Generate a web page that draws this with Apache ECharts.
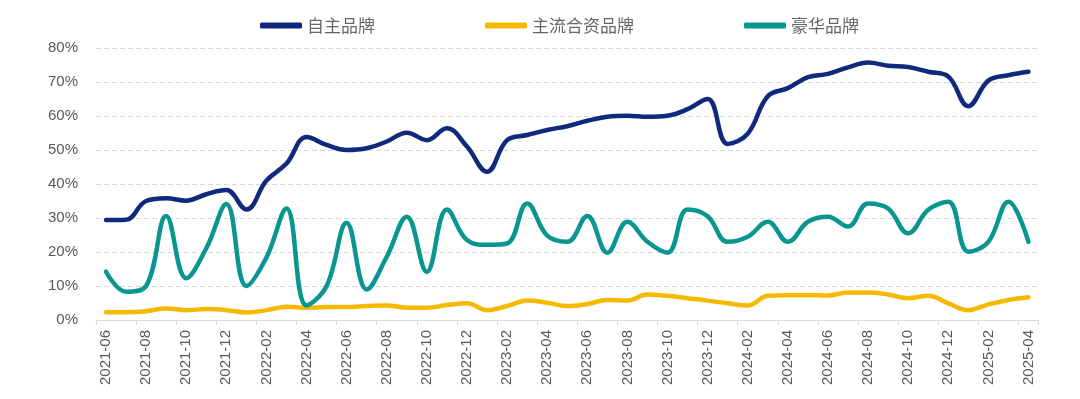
<!DOCTYPE html>
<html>
<head>
<meta charset="utf-8">
<script src="https://cdn.jsdelivr.net/npm/echarts@6/dist/echarts.min.js"></script>
<style>
html,body{margin:0;padding:0;background:#fff;}
#chart{width:1080px;height:399px;}
</style>
</head>
<body>
<div id="chart"></div>
<script>
const categories = [
  '2021-06','2021-07','2021-08','2021-09','2021-10','2021-11','2021-12',
  '2022-01','2022-02','2022-03','2022-04','2022-05','2022-06','2022-07','2022-08','2022-09','2022-10','2022-11','2022-12',
  '2023-01','2023-02','2023-03','2023-04','2023-05','2023-06','2023-07','2023-08','2023-09','2023-10','2023-11','2023-12',
  '2024-01','2024-02','2024-03','2024-04','2024-05','2024-06','2024-07','2024-08','2024-09','2024-10','2024-11','2024-12',
  '2025-01','2025-02','2025-03','2025-04'
];
const seriesNames = ['自主品牌', '主流合资品牌', '豪华品牌'];
const domestic = [29.4,29.5,35.0,35.8,35.1,37.0,38.2,32.5,41.0,46.0,53.8,51.5,50.0,50.5,52.5,55.1,52.9,56.4,51.0,43.6,52.9,54.4,
  55.9,57.0,58.6,59.8,60.1,59.8,60.1,62.0,65.0,51.8,54.8,65.8,68.2,71.4,72.4,74.3,75.7,74.8,74.4,73.0,71.6,62.9,70.4,72.0,73.0];
const jointVenture = [2.3,2.3,2.6,3.4,2.9,3.2,2.9,2.2,2.9,3.9,3.6,3.8,3.8,4.1,4.3,3.6,3.6,4.4,4.9,2.9,4.1,5.7,
  5.1,4.1,4.7,5.9,5.7,7.5,7.1,6.4,5.7,4.9,4.3,7.1,7.3,7.3,7.2,8.1,8.1,7.5,6.4,7.1,4.9,2.9,4.6,5.9,6.7];
const luxury = [14.2,8.3,10.0,30.6,12.3,21.1,34.1,10.0,18.4,32.8,4.3,10.0,28.6,9.0,18.6,30.4,14.2,32.5,23.5,22.1,22.5,34.3,
  24.8,23.0,30.6,19.8,28.9,23.0,19.8,32.5,30.5,23.0,24.5,28.9,23.0,28.9,30.4,27.5,34.3,32.8,25.5,32.4,34.8,20.1,23.0,34.8,23.0];
const yTicks = {min: 0, max: 80, interval: 10};
const colors = ['#0f2a7c', '#f7b900', '#0a9690'];

const chart = echarts.init(document.getElementById('chart'), null, {renderer: 'canvas'});
const seriesData = [domestic, jointVenture, luxury];
chart.setOption({
  backgroundColor: '#ffffff',
  animation: false,
  color: colors,
  legend: {
    top: 12,
    left: 255,
    itemGap: 110,
    itemWidth: 42,
    itemHeight: 6,
    icon: 'roundRect',
    textStyle: {fontFamily: 'Noto Sans CJK SC', fontSize: 17, color: '#666666'},
    data: seriesNames
  },
  grid: {left: 96, right: 41.5, top: 48, bottom: 79, containLabel: false},
  xAxis: {
    type: 'category',
    data: categories,
    boundaryGap: true,
    axisLine: {lineStyle: {color: '#d9d9d9', width: 1}},
    axisTick: {show: true, interval: function (idx) { return idx % 2 === 0 && idx < categories.length; }, length: 5, lineStyle: {color: '#d9d9d9'}},
    axisLabel: {interval: 1, rotate: 90, margin: 10, fontSize: 15, color: '#595959', fontFamily: 'Liberation Sans'},
    splitLine: {show: false}
  },
  yAxis: {
    type: 'value',
    min: yTicks.min, max: yTicks.max, interval: yTicks.interval,
    axisLine: {show: false},
    axisTick: {show: false},
    axisLabel: {formatter: '{value}%', fontSize: 15, color: '#595959', margin: 18, fontFamily: 'Liberation Sans'},
    splitLine: {lineStyle: {color: '#d9d9d9', type: [5, 3], width: 1}}
  },
  series: seriesNames.map((name, k) => ({
    name: name,
    type: 'line',
    data: seriesData[k],
    smooth: 0.4,
    showSymbol: false,
    symbol: 'none',
    lineStyle: {width: 4.5, color: colors[k], cap: 'round', join: 'round'},
    itemStyle: {color: colors[k]}
  }))
});
</script>
</body>
</html>
